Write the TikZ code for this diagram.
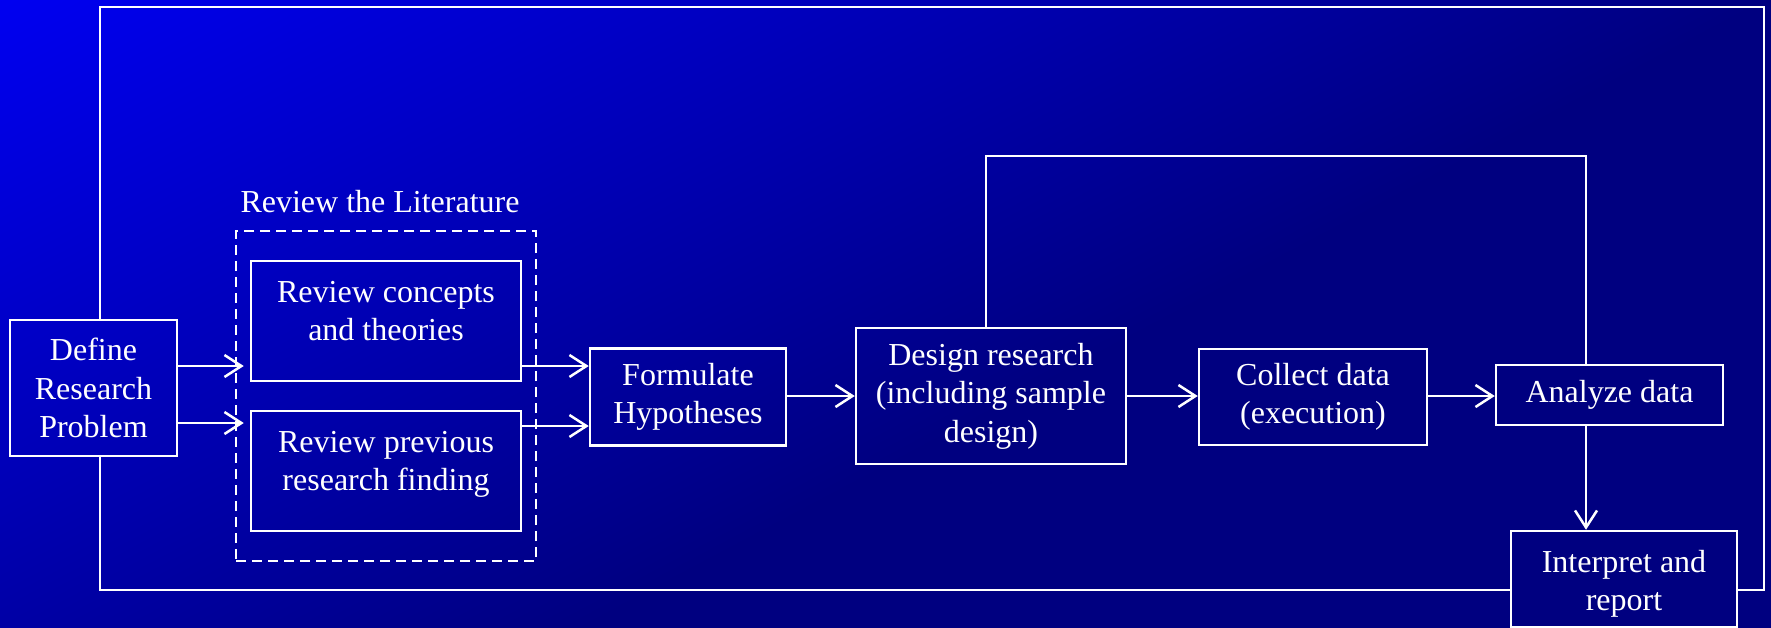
\documentclass[tikz,border=0pt]{standalone}
\usepackage{fontspec}
\setmainfont{Liberation Serif}
\usetikzlibrary{arrows.meta}
\definecolor{bgA}{RGB}{0,0,242}
\definecolor{bgB}{RGB}{0,0,128}
\newcommand{\bxc}[3]{\parbox[c][#2][c]{#1}{\centering #3}}
\newcommand{\bxt}[3]{\parbox[c][#2][t]{#1}{\centering\rule{0pt}{41pt}#3}}
\begin{document}
\begin{tikzpicture}[x=1pt,y=-1pt,
  every node/.style={text=white, font=\fontsize{32}{38.4}\selectfont},
  box/.style={draw=white, line width=2.5pt, inner sep=0pt},
  litbox/.style={draw=white, line width=2.5pt, dash pattern=on 10pt off 6pt, inner sep=0pt},
  ln/.style={draw=white, line width=2.5pt},
  arr/.style={draw=white, line width=2.5pt, -{Straight Barb[length=17pt,width=22pt]}}]
\useasboundingbox (0,0) rectangle (1771,627);
% background gradient
\begin{scope}
  \clip (0,0) rectangle (1771,627);
  \begin{scope}[transform canvas={rotate=-62.1}]
    \shade[left color=bgA, right color=bgB] (-10,-3000) rectangle (828,3000);
    \fill[bgA] (-600,-3000) rectangle (-9,3000);
    \fill[bgB] (827,-3000) rectangle (3000,3000);
  \end{scope}
\end{scope}
% nodes
\node[box] (define) at (93.5,388) {\bxc{167pt}{136pt}{Define\\Research\\Problem}};
\node[litbox, minimum width=300pt, minimum height=330pt] (lit) at (386,396) {};
\node[anchor=base] (litlabel) at (380,212) {Review the Literature};
\node[box] (concepts) at (386,321) {\bxt{270pt}{120pt}{Review concepts\\and theories}};
\node[box] (previous) at (386,471) {\bxt{270pt}{120pt}{Review previous\\research finding}};
\node[box] (form) at (688,397) {\bxc{196pt}{97pt}{Formulate\\Hypotheses}};
\node[box] (design) at (991,396) {\bxc{270pt}{136pt}{Design research\\(including sample\\design)}};
\node[box] (collect) at (1313,397) {\bxc{228pt}{96pt}{Collect data\\(execution)}};
\node[box] (analyze) at (1609.5,395) {\bxc{227pt}{60pt}{Analyze data}};
\node[box] (interp) at (1624,579) {\bxt{226pt}{96pt}{Interpret and\\report}};
% helper coordinates
\coordinate (ya) at (0,366);
\coordinate (yb) at (0,423);
\coordinate (yc) at (0,426);
\coordinate (ym) at (0,396);
\coordinate (fbL) at (986,156);
\coordinate (fbR) at (1586,156);
\coordinate (oTL) at (100,7);
\coordinate (oTR) at (1764,7);
\coordinate (oBL) at (100,590);
\coordinate (oBR) at (1764,590);
% arrows
\draw[arr, shorten >=6pt] (define.east |- ya) -- (concepts.west |- ya);
\draw[arr, shorten >=6pt] (define.east |- yb) -- (previous.west |- yb);
\draw[arr] (concepts.east |- ya) -- (form.west |- ya);
\draw[arr] (previous.east |- yc) -- (form.west |- yc);
\draw[arr] (form.east |- ym) -- (design.west |- ym);
\draw[arr] (design.east |- ym) -- (collect.west |- ym);
\draw[arr] (collect.east |- ym) -- (analyze.west |- ym);
\draw[arr] (analyze.south -| fbR) -- (interp.north -| fbR);
% feedback lines
\draw[ln] (design.north -| fbL) -- (fbL) -- (fbR) -- (analyze.north -| fbR);
\draw[ln] (define.north -| oTL) -- (oTL) -- (oTR) -- (oBR) -- (interp.east |- oBR);
\draw[ln] (define.south -| oBL) -- (oBL) -- (interp.west |- oBL);
\end{tikzpicture}
\end{document}
